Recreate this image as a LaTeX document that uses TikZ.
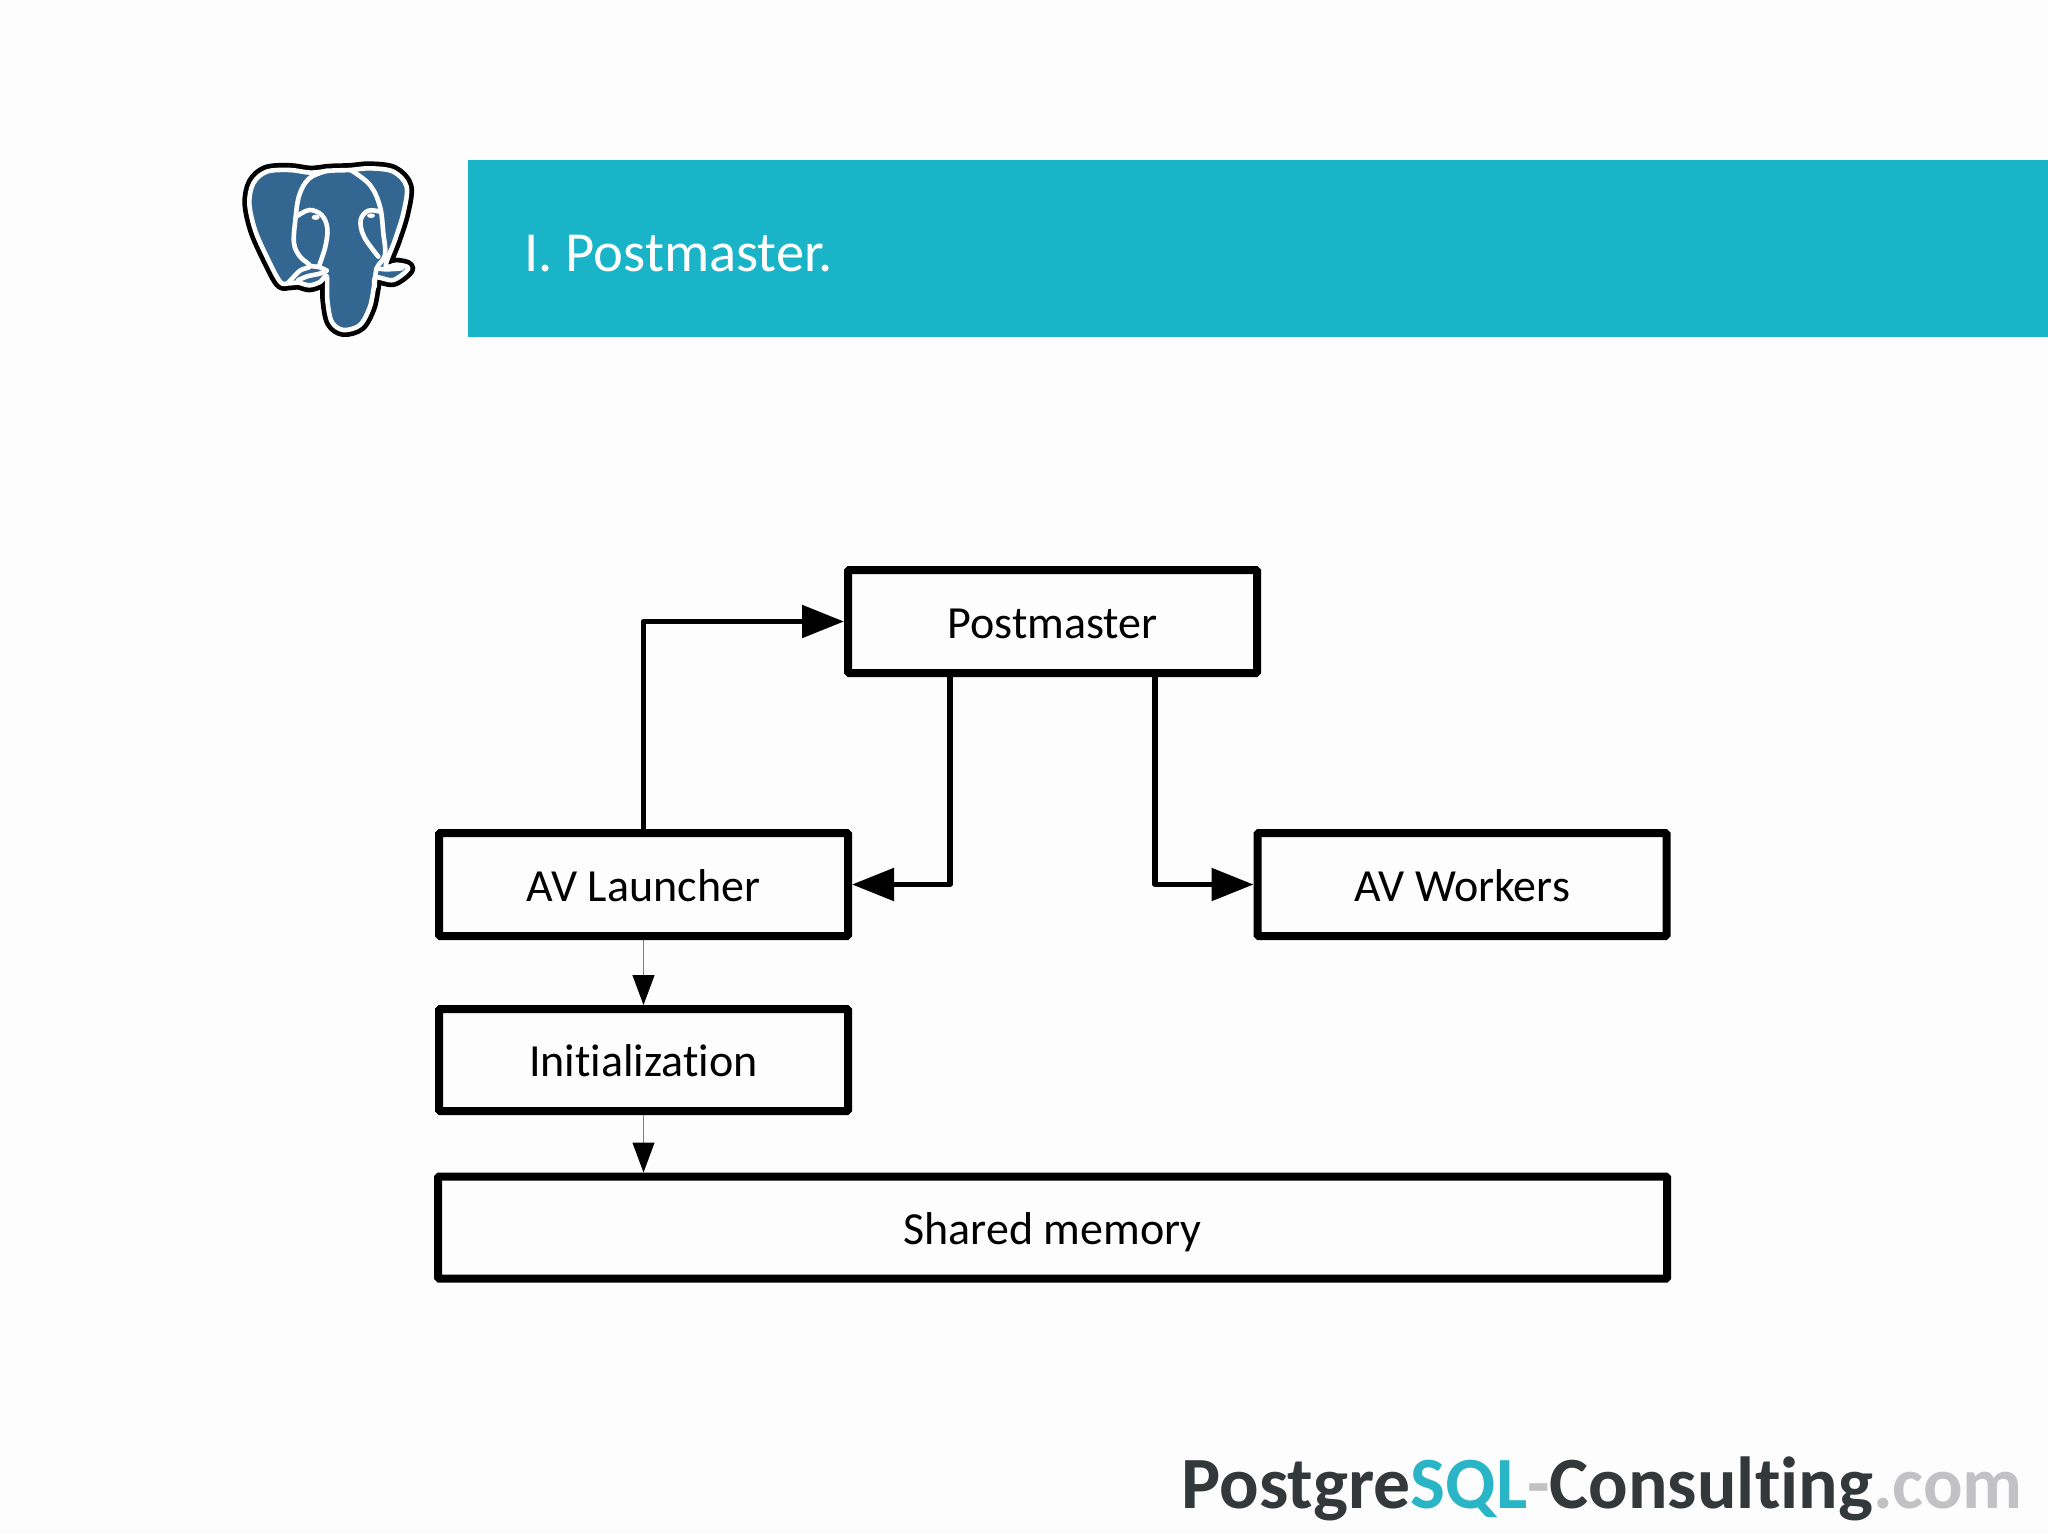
\documentclass[tikz,border=0pt]{standalone}
\usepackage{fontspec}
\setmainfont{Carlito}[Ligatures=NoCommon]
\usetikzlibrary{arrows.meta}
\definecolor{banner}{HTML}{1AB4C8}
\definecolor{elephant}{HTML}{336791}
\definecolor{footdark}{HTML}{33383B}
\definecolor{footteal}{HTML}{29B5C6}
\definecolor{footgray}{HTML}{C2C1C4}
\definecolor{paper}{HTML}{FEFDFE}
\tikzset{
  procbox/.style={draw=black,line width=4pt,rounded corners=0.6pt,inner sep=0pt,fill=none,
    minimum height=51.5pt,font=\fontsize{23pt}{26pt}\selectfont,text height=16.8pt,text depth=0pt},
  heavy/.style={draw=black,line width=2.7pt,line join=round,-{Triangle[length=21pt,width=16pt]}},
  light/.style={draw=black!50,line width=0.6pt,-{Triangle[length=15pt,width=11pt,color=black,fill=black]}},
  wline/.style={draw=white,line width=2.3pt,line cap=round,line join=round},
}
\begin{document}
\begin{tikzpicture}[x=0.5pt,y=-0.5pt]
\useasboundingbox (0,0) rectangle (2048,1535);
\fill[paper] (0,0) rectangle (2048,1535);
\fill[banner] (467.5,160.5) rectangle (2048,337);
\node[anchor=base west,inner sep=0pt,text=white,font=\fontsize{28.3pt}{32pt}\selectfont] (title) at (524,272) {I. Postmaster.};
% elephant
\begin{scope}[shift={(220,140)},x=0.16667pt,y=-0.16667pt]
\def\outl{(272,98)(210,90)(140,95)(100,130)(88,190)(105,270)(140,350)(180,425)(205,430)(235,428)(268,436)(300,426)(320,408)(322,480)(335,545)(370,570)(420,555)(450,500)(462,440)(468,412)(520,420)(565,385)(530,374)(497,378)(525,300)(550,220)(560,140)(520,95)(450,85)(390,90)(330,92)}
\draw[black,line width=7pt,line join=round] plot[smooth cycle,tension=.55] coordinates {\outl};
\draw[wline,fill=elephant] plot[smooth cycle,tension=.55] coordinates {\outl};
\draw[wline] plot[smooth,tension=.6] coordinates {(322,92)(268,115)(238,165)(226,240)(222,310)(240,350)(270,378)(240,392)(205,428)};
\draw[wline] plot[smooth,tension=.6] coordinates {(395,92)(450,135)(480,200)(490,280)(495,345)(470,385)(464,440)};
\draw[wline] plot[smooth,tension=.6] coordinates {(232,228)(268,210)(305,225)(322,265)(316,320)(298,375)};
\draw[wline] plot[smooth,tension=.6] coordinates {(480,215)(445,212)(422,240)(432,290)(475,350)};
\draw[wline] plot[smooth,tension=.6] coordinates {(270,378)(300,382)(320,392)};
\draw[wline] plot[smooth,tension=.6] coordinates {(235,420)(265,408)(295,402)(320,392)};
\draw[wline] plot[smooth,tension=.6] coordinates {(470,385)(500,388)(545,385)};
\fill[white] (287,232) ellipse [x radius=12,y radius=8];
\fill[white] (453,227) ellipse [x radius=12,y radius=7];
\end{scope}
% boxes
\node[procbox,minimum width=204.5pt] (post) at (1052.5,621.5) {Postmaster};
\node[procbox,minimum width=204.5pt] (launch) at (643.5,884.5) {AV Launcher};
\node[procbox,minimum width=204.5pt] (workers) at (1462,884.5) {AV Workers};
\node[procbox,minimum width=204.5pt,minimum height=51pt] (init) at (643.5,1060) {Initialization};
\node[procbox,minimum width=614.5pt,minimum height=51pt] (shm) at (1052.5,1227.5) {Shared memory};
% connectors
\coordinate (pl) at ([xshift=-51.25pt]post.south);
\coordinate (pr) at ([xshift=51.25pt]post.south);
\path[heavy] (launch.north) |- (post.west);
\path[heavy] (pl) |- (launch.east);
\path[heavy] (pr) |- (workers.west);
\path[light] (launch.south) -- (init.north);
\path[light] (init.south) -- (init.south |- shm.north);
% footer
\node[anchor=base west,inner sep=0pt,font=\fontsize{36.85pt}{40pt}\selectfont\bfseries] (foot) at (1181,1508)
  {\textcolor{footdark}{Postgre}\textcolor{footteal}{SQL}\textcolor{footgray}{-}\textcolor{footdark}{Consulting}\textcolor{footgray}{.com}};
\end{tikzpicture}
\end{document}
